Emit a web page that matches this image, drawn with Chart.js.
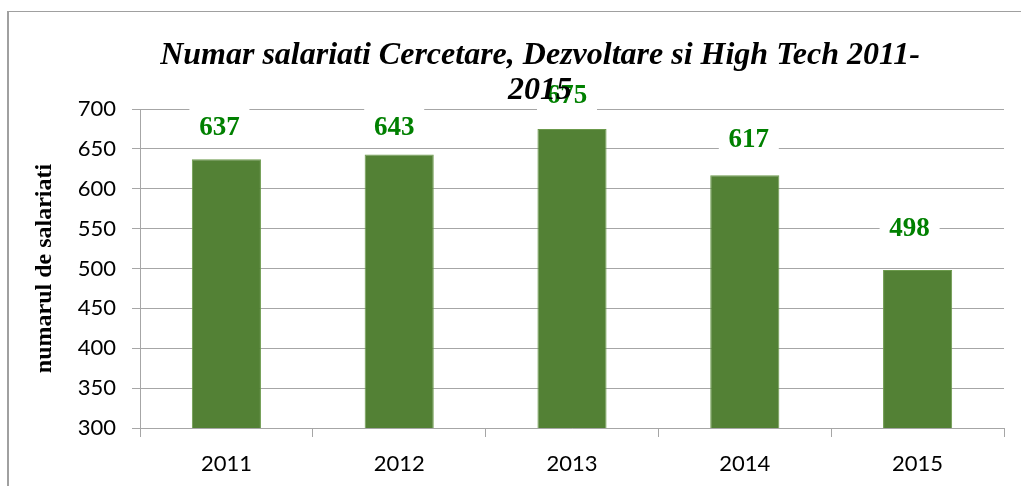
<!DOCTYPE html>
<html>
<head>
<meta charset="utf-8">
<script src="https://cdn.jsdelivr.net/npm/chart.js@4"></script>
<style>
  html, body { margin: 0; padding: 0; background: #fff; overflow: hidden; }
  #wrap { position: relative; width: 1021px; height: 486px; }
  #frame {
    position: absolute; left: 7px; top: 11px; width: 1100px; height: 600px;
    border-left: 2px solid #a0a0a0; border-top: 1px solid #a0a0a0;
  }
  canvas { position: absolute; left: 0; top: 0; }
</style>
</head>
<body>
<div id="wrap">
  <div id="frame"></div>
  <canvas id="myCanvas" width="1021" height="486"></canvas>
</div>
<script>
// data
const years = ["2011", "2012", "2013", "2014", "2015"];
const employees = [637, 643, 675, 617, 498];
const titleLines = ["Numar salariati Cercetare, Dezvoltare si High Tech 2011-", "2015"];
const yAxisTitle = "numarul de salariati";
const yMin = 300, yMax = 700, yStep = 50;

// labels were nudged by hand in the original: [dx, dy above bar top]
const labelNudge = [[-7, 32], [-5, 27], [-5, 34], [4, 36], [-8, 42]];

const gridGray = "#a6a6a6";

const valueLabels = {
    id: "valueLabels",
    afterDatasetsDraw(chart) {
        const ctx = chart.ctx;
        const bars = chart.getDatasetMeta(0).data;
        ctx.save();
        ctx.font = "bold 27px 'Liberation Serif', 'Times New Roman', serif";
        ctx.textAlign = "center";
        ctx.textBaseline = "middle";
        bars.forEach((bar, i) => {
            const x = bar.x + labelNudge[i][0];
            const y = bar.y - labelNudge[i][1];
            ctx.fillStyle = "#fff";
            ctx.fillRect(x - 30, y - 20, 60, 40);
            ctx.fillStyle = "#008000";
            ctx.fillText(String(employees[i]), x, y + 1);
        });
        ctx.restore();
    },
};

// title drawn last so it sits above the label boxes, like in the original
const chartTitle = {
    id: "chartTitle",
    afterDraw(chart) {
        const ctx = chart.ctx;
        ctx.save();
        ctx.font = "italic bold 32px 'Liberation Serif', 'Times New Roman', serif";
        ctx.fillStyle = "#000";
        ctx.textAlign = "center";
        ctx.textBaseline = "alphabetic";
        titleLines.forEach((line, i) => {
            ctx.fillText(line, 540, 64 + i * 35);
        });
        ctx.restore();
    },
};

const chart = new Chart(document.getElementById("myCanvas"), {
    type: "bar",
    data: {
        labels: years,
        datasets: [
            {
                label: "salariati",
                data: employees,
                backgroundColor: "#538135",
                borderColor: "#6c9a4c",
                borderWidth: 1,
                barPercentage: 0.4,
                categoryPercentage: 1,
            },
        ],
    },
    options: {
        responsive: false,
        devicePixelRatio: 1,
        animation: false,
        layout: {
            padding: { left: 0, top: 109, right: 17, bottom: 0 },
        },
        plugins: {
            legend: false,
            tooltip: { enabled: false },
            title: { display: false },
        },
        scales: {
            y: {
                min: yMin,
                max: yMax,
                afterFit(scale) {
                    scale.width = 140;
                },
                ticks: {
                    stepSize: yStep,
                    color: "#000",
                    padding: 16,
                    font: { family: "Lato, 'Open Sans', sans-serif", size: 22 },
                },
                grid: {
                    color: gridGray,
                    tickLength: 8,
                },
                border: { color: gridGray },
                title: {
                    display: true,
                    text: yAxisTitle,
                    color: "#000",
                    padding: { top: 30, bottom: 0 },
                    font: { family: "'Liberation Serif', 'Times New Roman', serif", size: 24, weight: "bold" },
                },
            },
            x: {
                offset: true,
                afterFit(scale) {
                    scale.height = 58;
                },
                ticks: {
                    color: "#000",
                    padding: 14,
                    font: { family: "Lato, 'Open Sans', sans-serif", size: 22 },
                },
                grid: {
                    offset: true,
                    drawOnChartArea: false,
                    color: gridGray,
                    tickLength: 9,
                },
                border: { color: gridGray },
            },
        },
    },
    plugins: [valueLabels, chartTitle],
});
</script>
</body>
</html>
